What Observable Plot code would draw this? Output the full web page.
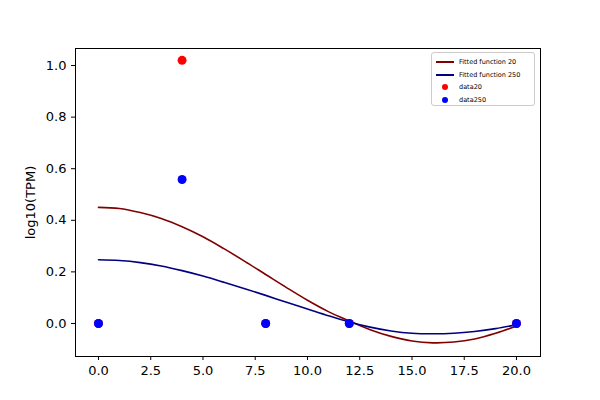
<!DOCTYPE html>
<html><head><meta charset="utf-8">
<script src="https://cdn.jsdelivr.net/npm/d3@7"></script>
<script src="https://cdn.jsdelivr.net/npm/@observablehq/plot@0.6"></script>
<style>body{margin:0;background:#fff;font-family:"DejaVu Sans",sans-serif}
#wrap{position:relative;width:600px;height:400px}
#leg{position:absolute;left:431px;top:52px;width:104px;height:54px;border:1px solid #ccc;border-radius:3px;background:#fff;font-size:6.5px;box-sizing:border-box;padding:3px 4px}
#leg div{display:flex;align-items:center;height:12.5px}
.ln{width:18px;height:2px;margin-right:5px}
.dt{width:6px;height:6px;border-radius:50%;margin:0 11px 0 6px}
</style></head><body><div id="wrap"></div>
<script>
const fitT = [0,1,2,3,4,5,6,7,8,9,10,11,12,13,14,15,16,17,18,19,20];
const fit20 = [0.45,0.446,0.43,0.407,0.375,0.336,0.29,0.241,0.19,0.139,0.09,0.046,0.01,-0.024,-0.05,-0.068,-0.075,-0.072,-0.06,-0.038,-0.01];
const fit250 = [0.247,0.244,0.236,0.223,0.205,0.184,0.16,0.135,0.109,0.082,0.056,0.03,0.006,-0.014,-0.029,-0.038,-0.04,-0.038,-0.031,-0.02,-0.005];
const dataT = [0,4,8,12,20];
const data20 = [0,1.02,0,0,0];
const data250 = [0,0.558,0,0,0];
const l20 = fitT.map((t,i)=>({t,v:fit20[i]}));
const l250 = fitT.map((t,i)=>({t,v:fit250[i]}));
const d20 = dataT.map((t,i)=>({t,v:data20[i]}));
const d250 = dataT.map((t,i)=>({t,v:data250[i]}));
const chart = Plot.plot({
  width:600,height:400,marginLeft:75,marginRight:60,marginTop:48,marginBottom:44,
  style:{fontSize:"13px",fontFamily:"DejaVu Sans",background:"#fff",color:"#000"},
  x:{domain:[-1.1,21.15],ticks:[0,2.5,5,7.5,10,12.5,15,17.5,20],tickFormat:d3.format(".1f"),label:null,tickSize:4},
  y:{domain:[-0.128,1.066],ticks:[0,0.2,0.4,0.6,0.8,1.0],tickFormat:d3.format(".1f"),label:"log10(TPM)",labelAnchor:"center",labelArrow:"none",labelOffset:50,tickSize:4},
  marks:[
    Plot.frame({stroke:"#000"}),
    Plot.line(l20,{x:"t",y:"v",stroke:"#800000",strokeWidth:1.6,curve:"catmull-rom"}),
    Plot.line(l250,{x:"t",y:"v",stroke:"#000080",strokeWidth:1.6,curve:"catmull-rom"}),
    Plot.dot(d20,{x:"t",y:"v",fill:"red",r:4.5}),
    Plot.dot(d250,{x:"t",y:"v",fill:"blue",r:4.5})
  ]
});
const w=document.getElementById("wrap");
w.appendChild(chart);
const leg=document.createElement("div");leg.id="leg";
leg.innerHTML='<div><span class="ln" style="background:#800000"></span>Fitted function 20</div><div><span class="ln" style="background:#000080"></span>Fitted function 250</div><div><span class="dt" style="background:red"></span>data20</div><div><span class="dt" style="background:blue"></span>data250</div>';
w.appendChild(leg);
</script></body></html>
